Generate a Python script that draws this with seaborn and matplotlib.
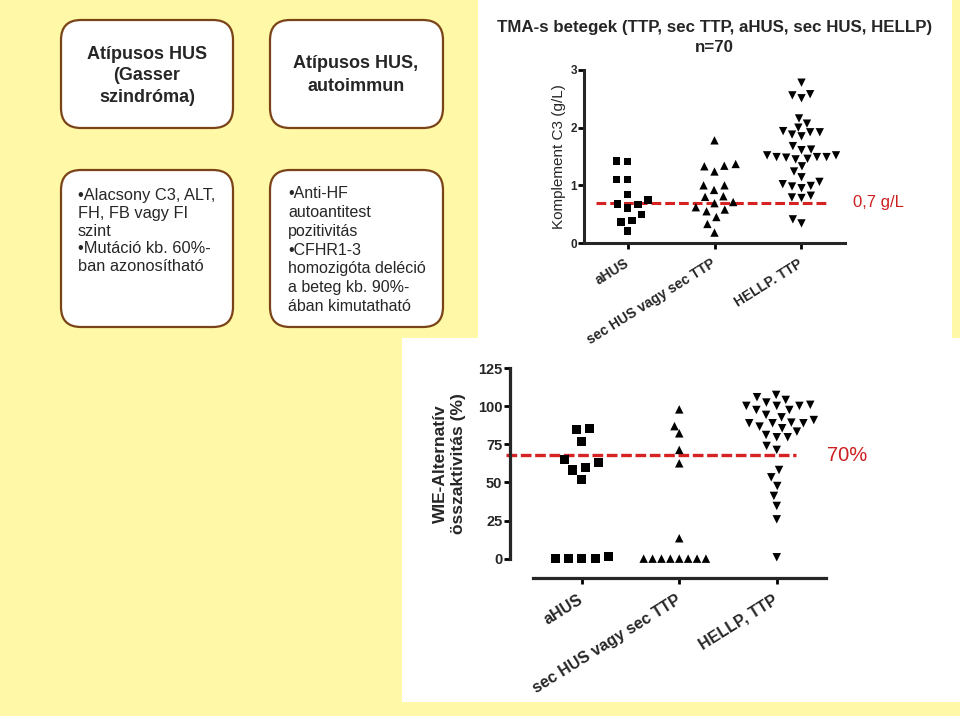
import numpy as np
import pandas as pd
import seaborn as sns
import matplotlib.pyplot as plt
from matplotlib.patches import FancyBboxPatch, Rectangle

sns.set_theme(style="ticks")
plt.rcParams['font.family'] = ['Liberation Sans', 'DejaVu Sans']

# --- data: komplement C3 (g/L) ---
groups_c3 = ["aHUS", "sec HUS vagy sec TTP", "HELLP. TTP"]
c3_ahus = [1.42, 1.41, 1.10, 1.10, 0.84, 0.75, 0.68, 0.67, 0.61, 0.49, 0.39, 0.36, 0.21]
c3_sec = [1.78, 1.37, 1.34, 1.33, 1.24, 1.00, 1.00, 0.92, 0.81, 0.80, 0.71, 0.69,
          0.62, 0.58, 0.55, 0.45, 0.33, 0.18]
c3_hellp = [2.78, 2.58, 2.56, 2.51, 2.16, 2.07, 2.00, 1.94, 1.92, 1.92, 1.88, 1.85,
            1.68, 1.62, 1.61, 1.52, 1.52, 1.49, 1.49, 1.49, 1.48, 1.46, 1.45, 1.33,
            1.24, 1.14, 1.06, 1.02, 0.99, 0.98, 0.95, 0.82, 0.79, 0.78, 0.41, 0.34]
c3_cutoff = 0.7

# --- data: WIE alternativ osszaktivitas (%) ---
groups_ap = ["aHUS", "sec HUS vagy sec TTP", "HELLP, TTP"]
ap_ahus = [85.6, 84.5, 76.8, 64.8, 63.0, 60.0, 58.2, 52.1, 1.3, 0, 0, 0, 0]
ap_sec = [98.0, 87.0, 82.3, 71.4, 62.6, 13.4, 0, 0, 0, 0, 0, 0, 0, 0]
ap_hellp = [107.5, 106.0, 104.2, 102.5, 101.0, 100.3, 100.3, 100.3, 97.6, 97.6, 94.4,
            92.8, 91.0, 89.3, 88.9, 88.9, 88.9, 86.7, 85.6, 83.4, 81.2, 79.7, 79.7,
            74.0, 71.4, 58.2, 53.4, 47.7, 41.2, 34.6, 25.8, 0.9]
ap_cutoff = 68

yellow = "#FFF8A6"
brown = "#7A4318"
red = "#D62222"
red_txt = "#CC1F1F"

c3 = pd.DataFrame({
    "group": [groups_c3[0]] * len(c3_ahus) + [groups_c3[1]] * len(c3_sec) + [groups_c3[2]] * len(c3_hellp),
    "value": c3_ahus + c3_sec + c3_hellp,
})
ap = pd.DataFrame({
    "group": [groups_ap[0]] * len(ap_ahus) + [groups_ap[1]] * len(ap_sec) + [groups_ap[2]] * len(ap_hellp),
    "value": ap_ahus + ap_sec + ap_hellp,
})

fig = plt.figure(figsize=(9.6, 7.16), dpi=100)
fig.patch.set_facecolor(yellow)

# background slide: white panels + rounded text boxes (pixel coords)
bg = fig.add_axes([0, 0, 1, 1])
bg.set_xlim(0, 960)
bg.set_ylim(716, 0)
bg.axis("off")
bg.add_patch(Rectangle((478, 0), 474, 340, fc="white", ec="none"))
bg.add_patch(Rectangle((402, 338), 558, 364, fc="white", ec="none"))
for x, y, w, h in [(61, 20, 172, 108), (270, 20, 173, 108), (61, 170, 172, 157), (270, 170, 173, 157)]:
    bg.add_patch(FancyBboxPatch((x, y), w, h, boxstyle="round,pad=0,rounding_size=20",
                                fc="white", ec=brown, lw=1.6))

bg.text(147, 76, "Atípusos HUS\n(Gasser\nszindróma)", ha="center", va="center",
        fontsize=13, fontweight="bold", linespacing=1.38)
bg.text(356, 75, "Atípusos HUS,\nautoimmun", ha="center", va="center",
        fontsize=13, fontweight="bold", linespacing=1.42)
bg.text(78, 188, "•Alacsony C3, ALT,\nFH, FB vagy FI\nszint\n•Mutáció kb. 60%-\nban azonosítható",
        ha="left", va="top", fontsize=11.8, linespacing=1.23)
bg.text(288, 186, "•Anti-HF\nautoantitest\npozitivitás\n•CFHR1-3\nhomozigóta deléció\na beteg kb. 90%-\nában kimutatható",
        ha="left", va="top", fontsize=11.5, linespacing=1.32)

# --- top chart: C3 ---
ax1 = fig.add_axes([584 / 960, 1 - 243 / 716, 261 / 960, 173 / 716])
ax1.patch.set_alpha(0)
for g, m, sz, lw in zip(groups_c3, ["s", "^", "v"], [5.4, 6.0, 6.0], [2.2, 1.9, 0.6]):
    sns.swarmplot(data=c3[c3["group"] == g], x="group", y="value", order=groups_c3,
                  marker=m, color="black", size=sz, linewidth=lw, edgecolor="none",
                  ax=ax1, zorder=3)
ax1.plot([-0.36, 2.28], [c3_cutoff, c3_cutoff], color=red, lw=2.2,
         ls=(0, (3.2, 1.3)), zorder=2, clip_on=False)
ax1.text(2.59, c3_cutoff, "0,7 g/L", color=red_txt, fontsize=12, va="center", ha="left")
ax1.set_xlim(-0.5, 2.5)
ax1.set_ylim(0, 3)
ax1.set_yticks([0, 1, 2, 3])
ax1.set_xlabel("")
ax1.set_ylabel("Komplement C3 (g/L)", fontsize=11, va="center")
ax1.yaxis.set_label_coords(-0.096, 0.5)
ax1.set_title("TMA-s betegek (TTP, sec TTP, aHUS, sec HUS, HELLP)\nn=70",
              fontsize=12.2, fontweight="bold", pad=13, linespacing=1.4)
sns.despine(ax=ax1)
for s in ["left", "bottom"]:
    ax1.spines[s].set_linewidth(2.2)
ax1.tick_params(axis="both", width=2, length=4, color="black", direction="out")
ax1.tick_params(axis="y", labelsize=8.5, pad=1)
ax1.tick_params(axis="x", labelsize=10, pad=10)
for t in ax1.get_yticklabels():
    t.set_fontweight("bold")
for t in ax1.get_xticklabels():
    t.set_fontweight("bold")
    t.set_rotation(32)
    t.set_ha("right")
    t.set_va("center")
    t.set_rotation_mode("anchor")

# --- bottom chart: alternativ ut aktivitas ---
ax2 = fig.add_axes([533 / 960, 1 - 578.3 / 716, 292.5 / 960, 214.6 / 716])
ax2.patch.set_alpha(0)
for g, m, sz, lw in zip(groups_ap, ["s", "^", "v"], [6.5, 6.1, 6.1], [2.6, 0.0, 1.4]):
    sns.swarmplot(data=ap[ap["group"] == g], x="group", y="value", order=groups_ap,
                  marker=m, color="black", size=sz, linewidth=lw, edgecolor="none",
                  ax=ax2, zorder=3)
ax2.plot([-0.78, 2.2], [ap_cutoff, ap_cutoff], color=red, lw=2.4,
         ls=(0, (3.2, 1.1)), zorder=2, clip_on=False)
ax2.text(2.52, ap_cutoff, "70%", color=red_txt, fontsize=14.5, va="center", ha="left")
ax2.set_xlim(-0.5, 2.5)
ax2.set_ylim(-12.9, 128)
ax2.set_yticks([0, 25, 50, 75, 100, 125])
ax2.set_xlabel("")
ax2.set_ylabel("WIE-Alternatív\nösszaktivitás (%)", fontsize=12.5, fontweight="bold",
               va="center", linespacing=1.25)
ax2.yaxis.set_label_coords(-0.287, 0.535)
sns.despine(ax=ax2)
ax2.spines["left"].set_bounds(0, 125)
ax2.spines["left"].set_position(("outward", 16.5))
for s in ["left", "bottom"]:
    ax2.spines[s].set_linewidth(2.3)
ax2.tick_params(axis="both", width=2, length=4.5, color="black", direction="out")
ax2.tick_params(axis="y", labelsize=10.5, pad=1)
ax2.tick_params(axis="x", labelsize=11.5, pad=10)
for t in ax2.get_yticklabels():
    t.set_fontweight("bold")
for t in ax2.get_xticklabels():
    t.set_fontweight("bold")
    t.set_rotation(32)
    t.set_ha("right")
    t.set_va("center")
    t.set_rotation_mode("anchor")

fig.savefig("out.png", dpi=100, facecolor=fig.get_facecolor())
